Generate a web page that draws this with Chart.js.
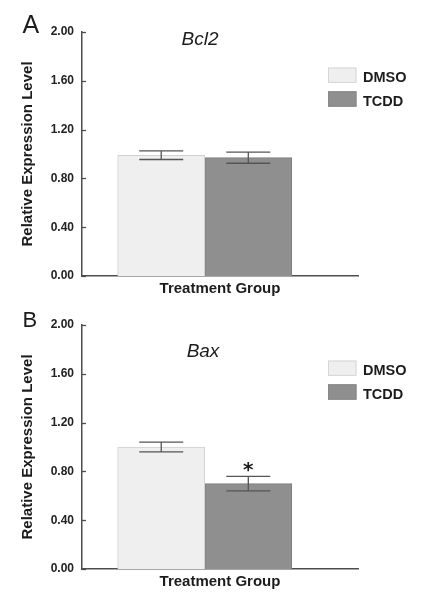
<!DOCTYPE html>
<html>
<head>
<meta charset="utf-8">
<script src="https://cdn.jsdelivr.net/npm/chart.js@4"></script>
<style>
  html, body { margin: 0; padding: 0; background: #fff; }
  body { width: 431px; height: 599px; position: relative; overflow: hidden; }
  .panel { position: absolute; left: 0; width: 431px; height: 300px; }
</style>
</head>
<body>
<div class="panel" style="top:0"><canvas id="chartA" width="431" height="300"></canvas></div>
<div class="panel" style="top:293px"><canvas id="chartB" width="431" height="300"></canvas></div>
<script>
// data
const groups = ['DMSO', 'TCDD'];
const groupSlots = [1, 2];
const bcl2Means = [0.99, 0.97];
const bcl2Errors = [0.035, 0.046];
const bcl2Marks = ['', ''];
const baxMeans = [1.00, 0.70];
const baxErrors = [0.04, 0.06];
const baxMarks = ['', '*'];
const yTicks = [0, 0.4, 0.8, 1.2, 1.6, 2.0];
const xLabel = 'Treatment Group';
const yLabel = 'Relative Expression Level';

const fills = ['#efefef', '#8f8f8f'];
const edges = ['#d0d0d0', '#7e7e7e'];
const ink = '#1c1c1c';
const axisGray = '#4e4e4e';
const FONT = "'Liberation Sans', Arial, sans-serif";

// error bars, stars, inner tick marks, panel letter, gene title, legend
const decor = {
    id: 'decor',
    afterDatasetsDraw(chart, args, o) {
        const { ctx, scales: { y } } = chart;
        ctx.save();
        ctx.strokeStyle = '#555';
        ctx.lineWidth = 1.3;
        chart.data.datasets.forEach((ds, i) => {
            const bar = chart.getDatasetMeta(i).data[0];
            const mean = ds.data[0].y;
            const top = y.getPixelForValue(mean + ds.err);
            const bot = y.getPixelForValue(mean - ds.err);
            ctx.beginPath();
            ctx.moveTo(bar.x, top); ctx.lineTo(bar.x, bot);
            ctx.moveTo(bar.x - 22, top); ctx.lineTo(bar.x + 22, top);
            ctx.moveTo(bar.x - 22, bot); ctx.lineTo(bar.x + 22, bot);
            ctx.stroke();
            if (ds.mark) {
                ctx.fillStyle = ink;
                ctx.font = "bold 20px 'DejaVu Sans'";
                ctx.textAlign = 'center';
                ctx.textBaseline = 'alphabetic';
                const m = ctx.measureText(ds.mark);
                ctx.fillText(ds.mark, bar.x, top - 4 - m.actualBoundingBoxDescent);
            }
        });
        ctx.restore();
    },
    afterDraw(chart, args, o) {
        const { ctx, chartArea, scales: { y } } = chart;
        ctx.save();
        // small ticks pointing into the plot
        ctx.strokeStyle = axisGray;
        ctx.lineWidth = 1.3;
        yTicks.forEach(v => {
            const py = Math.round(y.getPixelForValue(v)) + 0.5;
            ctx.beginPath();
            ctx.moveTo(chartArea.left, py);
            ctx.lineTo(chartArea.left + 4, py);
            ctx.stroke();
        });

        ctx.fillStyle = ink;
        ctx.textBaseline = 'alphabetic';
        ctx.textAlign = 'left';
        ctx.font = `${o.letterSize}px ${FONT}`;
        ctx.fillText(o.letter, 22.5, o.letterBase);

        ctx.textAlign = 'center';
        ctx.font = `italic 19px ${FONT}`;
        ctx.fillText(o.title, o.titleX, o.titleBase);

        // legend
        ctx.textAlign = 'left';
        ctx.font = `bold 14.5px ${FONT}`;
        groups.forEach((g, i) => {
            const by = 67.5 + i * 23.8;
            ctx.fillStyle = fills[i];
            ctx.fillRect(328, by, 28.5, 15.4);
            ctx.strokeStyle = i === 0 ? '#d6d6d6' : '#888';
            ctx.lineWidth = 1;
            ctx.strokeRect(328.5, by + 0.5, 27.5, 14.4);
            ctx.fillStyle = ink;
            ctx.fillText(g, 363, by + 14.4);
        });
        ctx.restore();
    }
};

function makePanel(id, means, errors, marks, look) {
    const datasets = groups.map((g, i) => ({
        label: g,
        data: [{ x: groupSlots[i], y: means[i] }],
        err: errors[i],
        mark: marks[i],
        backgroundColor: fills[i],
        borderColor: edges[i],
        borderWidth: 1,
        grouped: false,
        barPercentage: 1,
        categoryPercentage: 1
    }));

    return new Chart(document.getElementById(id), {
        type: 'bar',
        data: { datasets },
        options: {
            responsive: false,
            animation: false,
            layout: { padding: { top: 32, right: 73, left: 0, bottom: 0 } },
            plugins: {
                legend: { display: false },
                tooltip: { enabled: false },
                decor: look
            },
            scales: {
                x: {
                    type: 'linear',
                    offset: false,
                    min: 0.09,
                    max: 3.26,
                    afterBuildTicks: s => { s.ticks = groupSlots.map(v => ({ value: v })); },
                    grid: { display: false, drawTicks: false },
                    border: { display: true, color: axisGray, width: 1.5 },
                    ticks: { display: false },
                    title: {
                        display: true,
                        text: xLabel,
                        color: ink,
                        font: { family: FONT, size: 15, weight: 'bold' },
                        padding: { top: 0, bottom: 2.5 }
                    },
                    afterFit: s => { s.height = 24; }
                },
                y: {
                    min: 0,
                    max: 2,
                    afterBuildTicks: s => { s.ticks = yTicks.map(v => ({ value: v })); },
                    grid: { display: false, drawTicks: false },
                    border: { display: true, color: axisGray, width: 1.5 },
                    ticks: {
                        padding: 8,
                        color: '#222',
                        font: { family: FONT, size: 12, weight: 'bold' },
                        callback: v => Number(v).toFixed(2)
                    },
                    title: {
                        display: true,
                        text: yLabel,
                        color: ink,
                        font: { family: FONT, size: 15, weight: 'bold' },
                        padding: { top: 18.5, bottom: 0 }
                    },
                    afterFit: s => { s.width = 82; }
                }
            }
        },
        plugins: [decor]
    });
}

makePanel('chartA', bcl2Means, bcl2Errors, bcl2Marks,
    { letter: 'A', letterSize: 25, letterBase: 33, title: 'Bcl2', titleX: 200, titleBase: 45 });
makePanel('chartB', baxMeans, baxErrors, baxMarks,
    { letter: 'B', letterSize: 22, letterBase: 34.3, title: 'Bax', titleX: 203, titleBase: 64.3 });
</script>
</body>
</html>
